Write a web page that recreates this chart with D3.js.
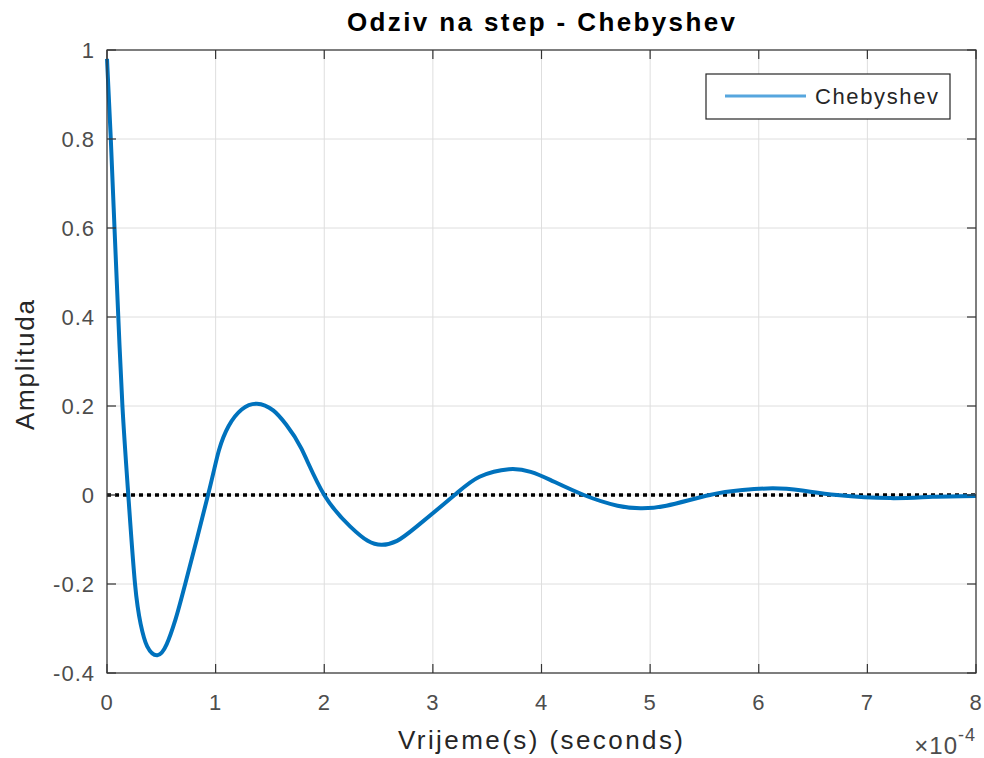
<!DOCTYPE html>
<html lang="en">
<head>
  <meta charset="UTF-8">
  <title>Odziv na step - Chebyshev</title>
  <script src="https://d3js.org/d3.v7.min.js"></script>
  <style>
    body { margin: 0; background: #fff; font-family: "Liberation Sans", Arial, sans-serif; }
    svg { display: block; }
    .grid line { stroke: #dedede; stroke-width: 1; }
    .tick-label { font-size: 22px; fill: #4d4d4d; letter-spacing: 1px; }
    .axis-title { font-size: 26px; fill: #262626; }
  </style>
</head>
<body>
  <svg width="984" height="758"></svg>
  <script>
    // time in units of 1e-4 s, amplitude
    const time = [0, 0.035, 0.069, 0.104, 0.142, 0.196, 0.258, 0.31, 0.37, 0.463, 0.55, 0.63, 0.72, 0.93, 1.03, 1.12, 1.24, 1.38, 1.53, 1.65, 1.79, 2.0, 2.24, 2.40, 2.53, 2.67, 2.85, 3.20, 3.43, 3.70, 3.90, 4.08, 4.39, 4.70, 4.91, 5.15, 5.55, 5.85, 6.13, 6.40, 6.72, 7.21, 7.60, 8.0];
    const amplitude = [0.98, 0.8, 0.6, 0.4, 0.2, 0, -0.2, -0.29, -0.34, -0.36, -0.335, -0.28, -0.2, 0, 0.1, 0.155, 0.192, 0.205, 0.19, 0.158, 0.104, 0, -0.071, -0.103, -0.112, -0.103, -0.071, 0, 0.041, 0.058, 0.052, 0.034, 0, -0.024, -0.030, -0.024, 0, 0.011, 0.015, 0.010, 0, -0.007, -0.004, -0.002];
    const xTicks = [0, 1, 2, 3, 4, 5, 6, 7, 8];
    const yTicks = [-0.4, -0.2, 0, 0.2, 0.4, 0.6, 0.8, 1];
    const seriesName = "Chebyshev";

    const svg = d3.select("svg");
    const m = { left: 107, right: 976, top: 50, bottom: 673 };

    const x = d3.scaleLinear().domain([0, 8]).range([m.left, m.right]);
    const y = d3.scaleLinear().domain([-0.4, 1]).range([m.bottom, m.top]);

    // grid
    const grid = svg.append("g").attr("class", "grid");
    grid.selectAll(".gx").data(xTicks).enter().append("line")
      .attr("x1", d => x(d)).attr("x2", d => x(d))
      .attr("y1", m.top).attr("y2", m.bottom);
    grid.selectAll(".gy").data(yTicks).enter().append("line")
      .attr("x1", m.left).attr("x2", m.right)
      .attr("y1", d => y(d)).attr("y2", d => y(d));

    // zero reference line (dotted)
    svg.append("line")
      .attr("x1", x(0)).attr("x2", x(8))
      .attr("y1", y(0)).attr("y2", y(0))
      .attr("stroke", "#000")
      .attr("stroke-width", 3.4)
      .attr("stroke-dasharray", "4,4");

    // response curve
    const line = d3.line()
      .x((d, i) => x(time[i]))
      .y(d => y(d))
      .curve(d3.curveNatural);

    svg.append("path")
      .datum(amplitude)
      .attr("d", line)
      .attr("fill", "none")
      .attr("stroke", "#0072BD")
      .attr("stroke-width", 4)
      .attr("stroke-linejoin", "round");

    // axes with inward ticks on all four sides
    const tickLen = 9;
    const axisColor = "#333";
    svg.append("rect")
      .attr("x", m.left).attr("y", m.top)
      .attr("width", m.right - m.left).attr("height", m.bottom - m.top)
      .attr("fill", "none").attr("stroke", axisColor).attr("stroke-width", 1.2);

    const ticks = svg.append("g").attr("stroke", axisColor).attr("stroke-width", 1.2);
    xTicks.forEach(t => {
      ticks.append("line").attr("x1", x(t)).attr("x2", x(t)).attr("y1", m.bottom).attr("y2", m.bottom - tickLen);
      ticks.append("line").attr("x1", x(t)).attr("x2", x(t)).attr("y1", m.top).attr("y2", m.top + tickLen);
    });
    yTicks.forEach(t => {
      ticks.append("line").attr("x1", m.left).attr("x2", m.left + tickLen).attr("y1", y(t)).attr("y2", y(t));
      ticks.append("line").attr("x1", m.right).attr("x2", m.right - tickLen).attr("y1", y(t)).attr("y2", y(t));
    });

    svg.selectAll(".xlab").data(xTicks).enter().append("text")
      .attr("class", "tick-label")
      .attr("x", d => x(d)).attr("y", m.bottom + 37)
      .attr("text-anchor", "middle")
      .text(d => d);

    svg.selectAll(".ylab").data(yTicks).enter().append("text")
      .attr("class", "tick-label")
      .attr("x", m.left - 12).attr("y", d => y(d) + 8)
      .attr("text-anchor", "end")
      .text(d => d);

    // exponent
    const expo = svg.append("text")
      .attr("class", "tick-label")
      .attr("x", m.right).attr("y", 754)
      .attr("text-anchor", "end");
    expo.append("tspan").attr("font-size", 24).text("\u00d710");
    expo.append("tspan").attr("dy", -13).attr("font-size", 18).text("-4");

    // titles
    svg.append("text")
      .attr("x", 347).attr("y", 31)
      .attr("textLength", 388).attr("lengthAdjust", "spacing")
      .attr("font-size", 26).attr("font-weight", "bold").attr("fill", "#000")
      .text("Odziv na step - Chebyshev");

    svg.append("text")
      .attr("class", "axis-title")
      .attr("x", 398).attr("y", 749)
      .attr("textLength", 285).attr("lengthAdjust", "spacing")
      .text("Vrijeme(s) (seconds)");

    svg.append("text")
      .attr("class", "axis-title")
      .attr("transform", "translate(34, 430) rotate(-90)")
      .attr("textLength", 130).attr("lengthAdjust", "spacing")
      .text("Amplituda");

    // legend
    const legend = svg.append("g");
    legend.append("rect")
      .attr("x", 706).attr("y", 74).attr("width", 244).attr("height", 45)
      .attr("fill", "#fff").attr("stroke", "#262626").attr("stroke-width", 1.2);
    legend.append("line")
      .attr("x1", 725).attr("x2", 806).attr("y1", 96).attr("y2", 96)
      .attr("stroke", "#56a6de").attr("stroke-width", 3);
    legend.append("text")
      .attr("x", 815).attr("y", 104)
      .attr("textLength", 123).attr("lengthAdjust", "spacing")
      .attr("font-size", 22).attr("fill", "#262626")
      .text(seriesName);
  </script>
</body>
</html>
